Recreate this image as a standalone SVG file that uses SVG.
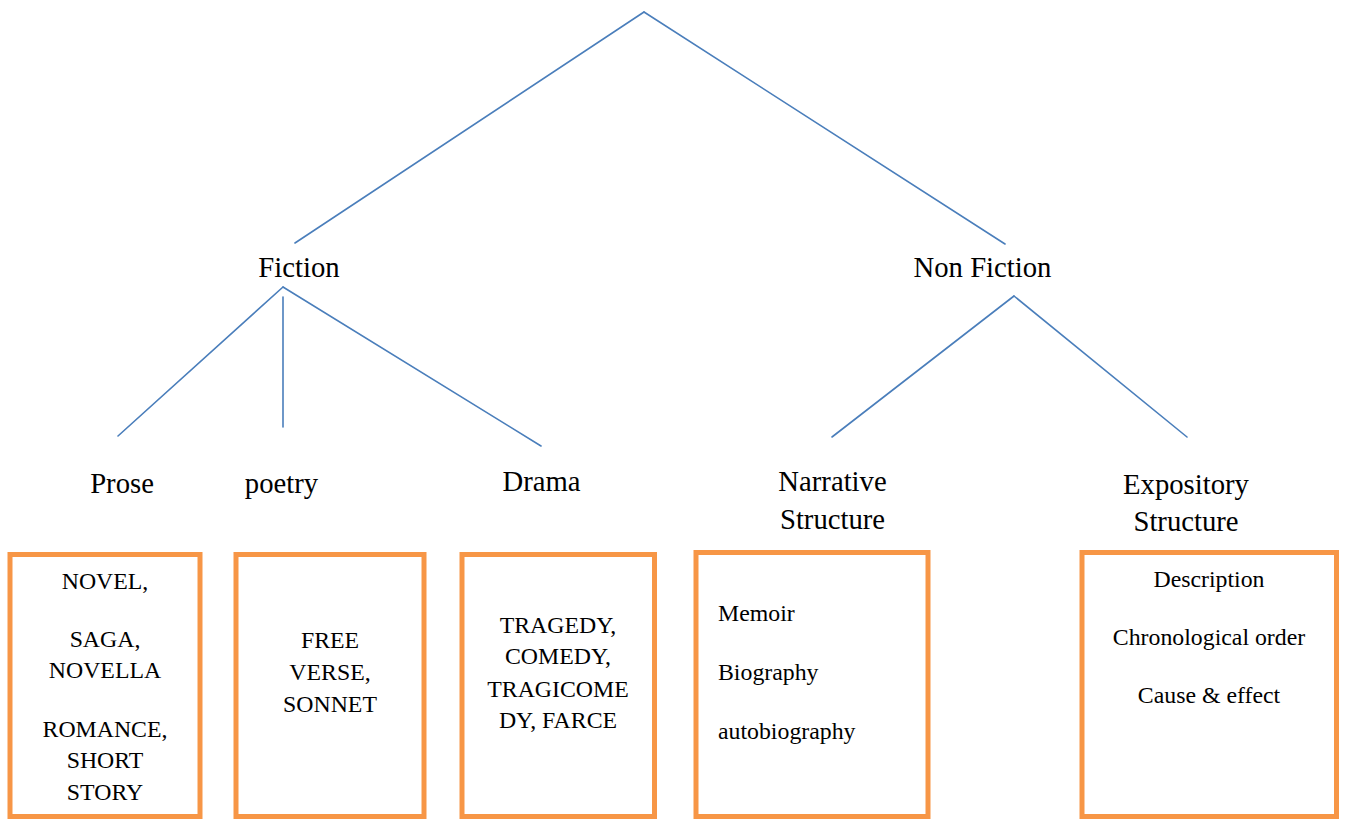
<svg xmlns="http://www.w3.org/2000/svg" width="1345" height="819" viewBox="0 0 1345 819">
<style>
.lbl{font-size:28.7px;text-anchor:middle}
.bt{font-size:23.8px;text-anchor:middle}
.bl{font-size:23.8px}
.box{fill:#fff;stroke:#F79646;stroke-width:5}
.con line{stroke:#4A7EBB;stroke-width:1.6;stroke-linecap:round}
</style>
<rect width="1345" height="819" fill="#fff"/>
<g id="connectors" class="con">
<line x1="644" y1="12" x2="295" y2="243"/>
<line x1="644" y1="12" x2="1005" y2="244"/>
<line x1="283" y1="287" x2="118" y2="436"/>
<line x1="283" y1="297" x2="283" y2="427"/>
<line x1="283" y1="287" x2="541" y2="446"/>
<line x1="1014" y1="296" x2="832" y2="437"/>
<line x1="1014" y1="296" x2="1187" y2="437"/>
</g>
<g font-family="Liberation Serif, DejaVu Serif, serif" fill="#000">
<g id="fiction"><text class="lbl" x="299" y="277">Fiction</text></g>
<g id="nonfiction"><text class="lbl" x="982.5" y="277">Non Fiction</text></g>
<g id="prose"><text class="lbl" x="122" y="493">Prose</text></g>
<g id="poetry"><text class="lbl" x="281.5" y="493">poetry</text></g>
<g id="drama"><text class="lbl" x="541.5" y="491">Drama</text></g>
<g id="narrative"><text class="lbl" x="832.5" y="491">Narrative</text><text class="lbl" x="832.5" y="528.5">Structure</text></g>
<g id="expository"><text class="lbl" x="1186" y="494">Expository</text><text class="lbl" x="1186" y="531">Structure</text></g>
<g id="box-prose">
<rect class="box" x="10" y="554.5" width="190" height="262"/>
<text class="bt" x="105" y="589">NOVEL,</text>
<text class="bt" x="105" y="647">SAGA,</text>
<text class="bt" x="105" y="678">NOVELLA</text>
<text class="bt" x="105" y="737">ROMANCE,</text>
<text class="bt" x="105" y="768">SHORT</text>
<text class="bt" x="105" y="800">STORY</text>
</g>
<g id="box-poetry">
<rect class="box" x="236" y="554.5" width="188" height="262"/>
<text class="bt" x="330" y="648">FREE</text>
<text class="bt" x="330" y="680">VERSE,</text>
<text class="bt" x="330" y="712">SONNET</text>
</g>
<g id="box-drama">
<rect class="box" x="462" y="554.5" width="192.5" height="262"/>
<text class="bt" x="558" y="633">TRAGEDY,</text>
<text class="bt" x="558" y="664">COMEDY,</text>
<text class="bt" x="558" y="697">TRAGICOME</text>
<text class="bt" x="558" y="728">DY, FARCE</text>
</g>
<g id="box-narrative">
<rect class="box" x="696" y="552.5" width="232" height="264"/>
<text class="bl" x="718" y="621">Memoir</text>
<text class="bl" x="718" y="680">Biography</text>
<text class="bl" x="718" y="739">autobiography</text>
</g>
<g id="box-expository">
<rect class="box" x="1082" y="552.5" width="254.5" height="264"/>
<text class="bt" x="1209" y="587">Description</text>
<text class="bt" x="1209" y="645">Chronological order</text>
<text class="bt" x="1209" y="703">Cause &amp; effect</text>
</g>
</g>
</svg>
